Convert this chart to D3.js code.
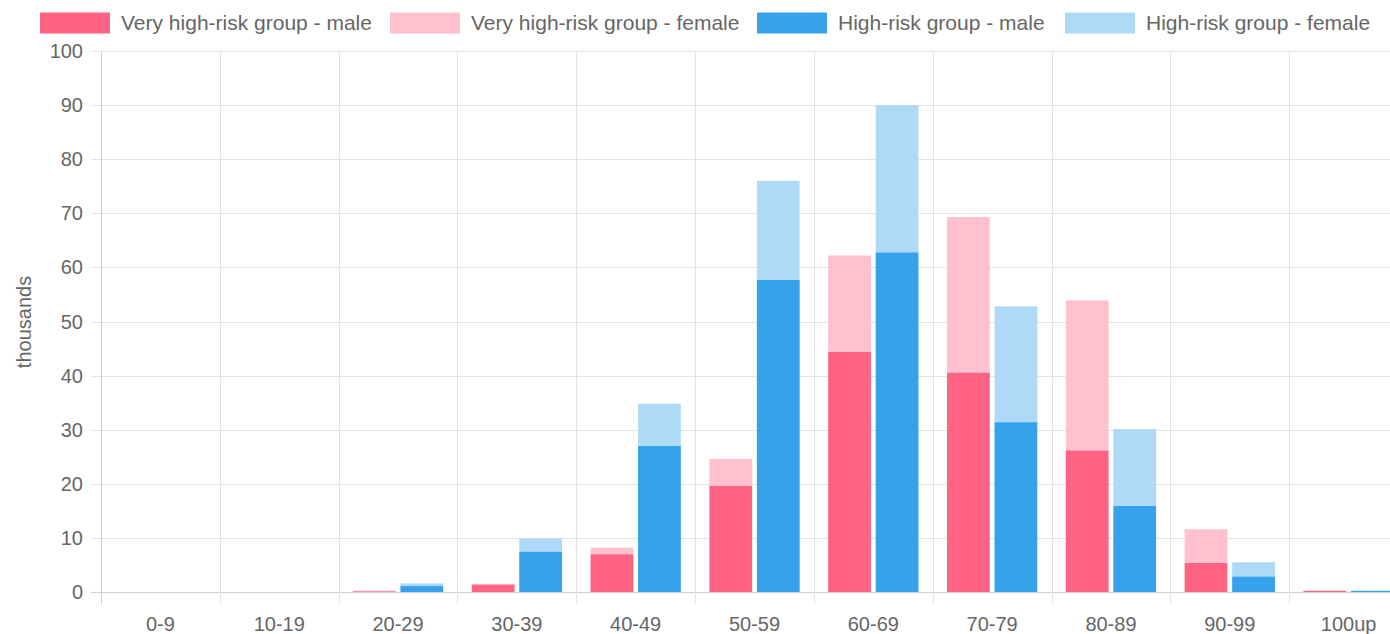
<!DOCTYPE html>
<html>
<head>
<meta charset="utf-8">
<script src="https://cdn.jsdelivr.net/npm/d3@7/dist/d3.min.js"></script>
<style>
  html, body { margin: 0; padding: 0; background: #fff; }
  svg { display: block; font-family: "Liberation Sans", Arial, Helvetica, sans-serif; }
</style>
</head>
<body>
<svg id="chart" width="1390" height="634"></svg>
<script>
const categories = ["0-9","10-19","20-29","30-39","40-49","50-59","60-69","70-79","80-89","90-99","100up"];
const veryHighMale   = [0, 0, 0.15, 1.4, 7.0, 19.6, 44.4, 40.6, 26.2, 5.4, 0.2];
const veryHighFemale = [0, 0, 0.1, 0.1, 1.2, 5.0, 17.8, 28.7, 27.7, 6.2, 0.1];
const highMale       = [0, 0, 1.1, 7.5, 27.0, 57.7, 62.8, 31.4, 15.9, 2.9, 0.2];
const highFemale     = [0, 0, 0.5, 2.4, 7.8, 18.3, 27.2, 21.4, 14.2, 2.6, 0.1];
const yTicks = [0,10,20,30,40,50,60,70,80,90,100];
const seriesNames = ["Very high-risk group - male","Very high-risk group - female","High-risk group - male","High-risk group - female"];
const seriesColors = ["#ff6384","#ffc1ce","#36a2eb","#afdaf7"];

(function () {
const svg = d3.select("#chart");
const pL = 101, pR = 1408, pT = 51, pB = 592;

const x = d3.scaleBand().domain(categories).range([pL, pR]).paddingInner(0).paddingOuter(0);
const y = d3.scaleLinear().domain([0, 100]).range([pB, pT]);

// chart.js-like positioning: categoryPercentage 0.8, barPercentage 0.9
const bw = x.bandwidth();
const slot = bw * 0.8 / 2;
const barW = slot * 0.9;
function barX(cat, k) {
  const start = x(cat) + bw * 0.1 + (k === "vh" ? 0 : slot);
  return start + (slot - barW) / 2;
}

const grid = svg.append("g");
grid.selectAll("line.h").data(yTicks).join("line")
  .attr("x1", pL - 10).attr("x2", 1390)
  .attr("y1", d => Math.round(y(d)) + 0.5).attr("y2", d => Math.round(y(d)) + 0.5)
  .attr("stroke", d => d === 0 ? "#cfcfcf" : "#e3e3e3").attr("stroke-width", 1);
const bounds = categories.map(c => x(c));
grid.selectAll("line.v").data(bounds).join("line")
  .attr("x1", d => Math.round(d) + 0.5).attr("x2", d => Math.round(d) + 0.5)
  .attr("y1", pT).attr("y2", pB + 12)
  .attr("stroke", (d, i) => i === 0 ? "#cfcfcf" : "#e3e3e3").attr("stroke-width", 1);

const rows = categories.map((c, i) => ({c, vm: veryHighMale[i], vf: veryHighFemale[i], hm: highMale[i], hf: highFemale[i]}));
const segs = [];
rows.forEach(r => {
  segs.push({c: r.c, k: "vh", y0: 0, y1: r.vm, col: seriesColors[0]});
  segs.push({c: r.c, k: "vh", y0: r.vm, y1: r.vm + r.vf, col: seriesColors[1]});
  segs.push({c: r.c, k: "h", y0: 0, y1: r.hm, col: seriesColors[2]});
  segs.push({c: r.c, k: "h", y0: r.hm, y1: r.hm + r.hf, col: seriesColors[3]});
});
svg.append("g").selectAll("rect").data(segs.filter(s => s.y1 > s.y0)).join("rect")
  .attr("x", d => barX(d.c, d.k)).attr("width", barW)
  .attr("y", d => y(d.y1)).attr("height", d => y(d.y0) - y(d.y1))
  .attr("fill", d => d.col);

svg.append("g").selectAll("text").data(yTicks).join("text")
  .attr("x", 83).attr("y", d => y(d)).attr("dy", "0.35em")
  .attr("text-anchor", "end").attr("font-size", 20).attr("fill", "#666")
  .text(d => d);

svg.append("g").selectAll("text").data(categories).join("text")
  .attr("x", d => x(d) + bw / 2).attr("y", 631)
  .attr("text-anchor", "middle").attr("font-size", 20).attr("fill", "#666")
  .text(d => d);

svg.append("text")
  .attr("transform", "translate(31,322) rotate(-90)")
  .attr("text-anchor", "middle").attr("font-size", 20).attr("fill", "#666")
  .text("thousands");

const legendX = [40, 390, 757, 1065];
const lg = svg.append("g");
seriesNames.forEach((n, i) => {
  lg.append("rect").attr("x", legendX[i]).attr("y", 12.5).attr("width", 70).attr("height", 21).attr("fill", seriesColors[i]);
  lg.append("text").attr("x", legendX[i] + 81).attr("y", 29.5).attr("font-size", 21).attr("fill", "#666").text(n);
});
})();
</script>
</body>
</html>
